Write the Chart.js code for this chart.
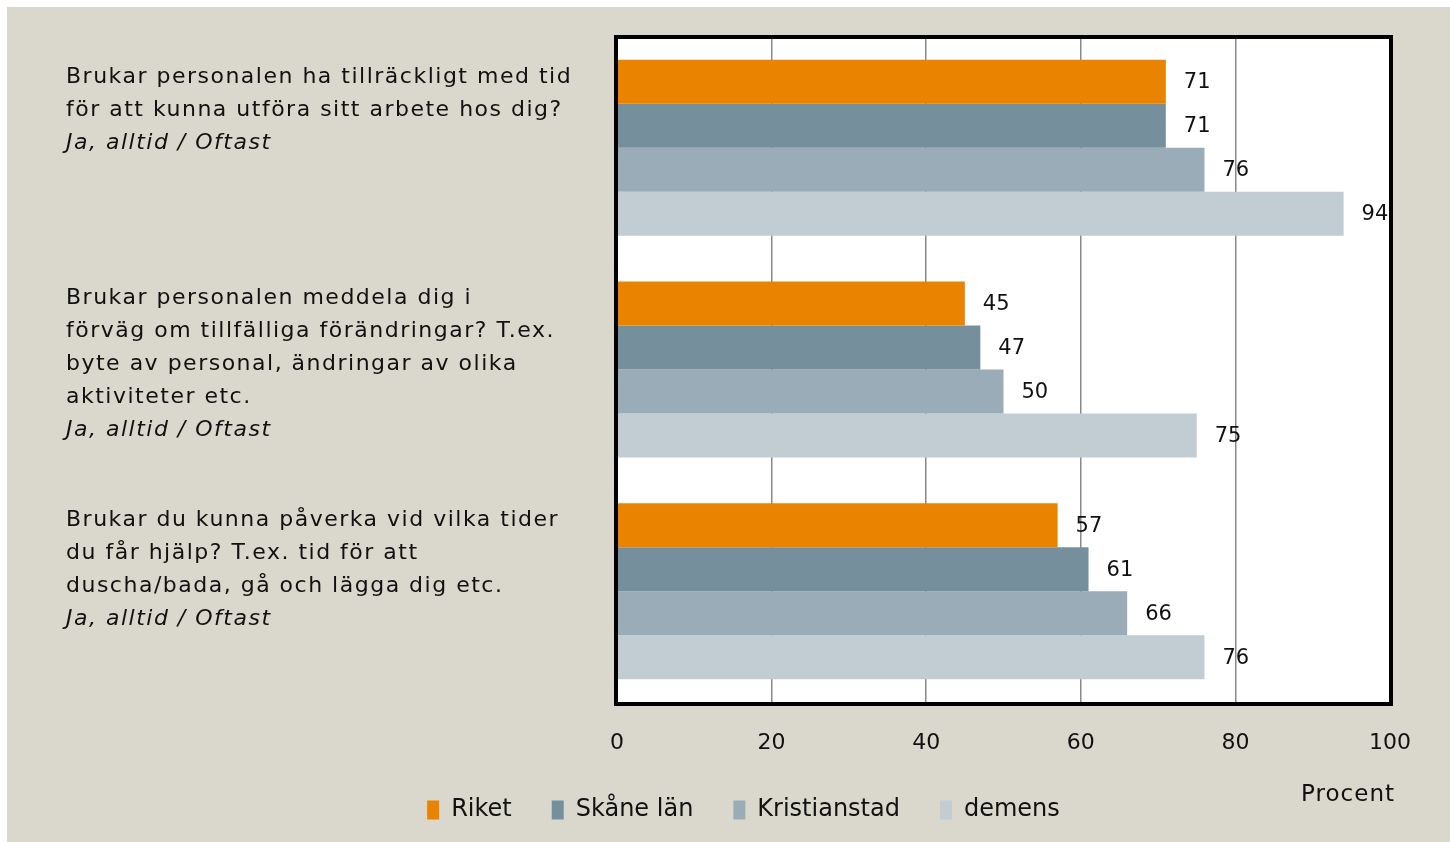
<!DOCTYPE html>
<html>
<head>
<meta charset="utf-8">
<script src="https://cdn.jsdelivr.net/npm/chart.js@4/dist/chart.umd.min.js"></script>
<style>
  html, body { margin: 0; padding: 0; background: #ffffff; }
  #wrap { position: absolute; left: 7px; top: 7px; width: 1443px; height: 835px; background: #dad8cc; }
</style>
</head>
<body>
<div id="wrap"><canvas id="myGraph"></canvas></div>
<script>
const FONT = "'DejaVu Sans', sans-serif";

// frågorna, sista raden kursiv
const questions = [
  ["Brukar personalen ha tillräckligt med tid", "för att kunna utföra sitt arbete hos dig?", "Ja, alltid / Oftast"],
  ["Brukar personalen meddela dig i", "förväg om tillfälliga förändringar? T.ex.", "byte av personal, ändringar av olika", "aktiviteter etc.", "Ja, alltid / Oftast"],
  ["Brukar du kunna påverka vid vilka tider", "du får hjälp? T.ex. tid för att", "duscha/bada, gå och lägga dig etc.", "Ja, alltid / Oftast"]
];
const seriesNames = ["Riket", "Skåne län", "Kristianstad", "demens"];
const riket = [71, 45, 57];
const skane = [71, 47, 61];
const kristianstad = [76, 50, 66];
const demens = [94, 75, 76];
const xTicks = [0, 20, 40, 60, 80, 100];
const axisTitle = "Procent";

const colors = ["#e98300", "#758f9c", "#99acb7", "#c2cdd3"];
const values = [riket, skane, kristianstad, demens];

// egen plugin: vit plotyta, frågetexter, värden, ram och axeltitel
const extras = {
  id: "extras",
  beforeDraw(chart) {
    const ctx = chart.ctx;
    const area = chart.chartArea;
    ctx.save();
    ctx.fillStyle = "#ffffff";
    ctx.fillRect(area.left, area.top, area.right - area.left, area.bottom - area.top);
    ctx.restore();
  },
  afterDatasetsDraw(chart) {
    const ctx = chart.ctx;
    const area = chart.chartArea;
    ctx.save();
    ctx.beginPath();
    ctx.rect(area.left, area.top, area.right - area.left, area.bottom - area.top);
    ctx.clip();
    ctx.fillStyle = "#111";
    ctx.font = "21px " + FONT;
    ctx.textAlign = "left";
    ctx.textBaseline = "middle";
    chart.data.datasets.forEach((ds, i) => {
      chart.getDatasetMeta(i).data.forEach((bar, j) => {
        ctx.fillText(String(ds.data[j]), bar.x + 18, bar.y + 1);
      });
    });
    ctx.restore();
  },
  afterDraw(chart) {
    const ctx = chart.ctx;
    const area = chart.chartArea;
    ctx.save();
    ctx.strokeStyle = "#000";
    ctx.lineWidth = 4;
    ctx.strokeRect(area.left - 1, area.top, area.right - area.left + 2, area.bottom - area.top + 2);

    ctx.fillStyle = "#111";
    ctx.textAlign = "left";
    ctx.textBaseline = "middle";
    ctx.letterSpacing = "1.5px";
    const meta = chart.getDatasetMeta(0);
    questions.forEach((lines, i) => {
      const bar = meta.data[i];
      let y = bar.y - bar.height / 2 + 17;
      lines.forEach((line, k) => {
        const italic = k === lines.length - 1;
        ctx.font = (italic ? "italic " : "") + "22px " + FONT;
        ctx.fillText(line, 59, y);
        y += 33;
      });
    });

    ctx.letterSpacing = "1px";
    ctx.font = "23px " + FONT;
    ctx.textAlign = "right";
    ctx.fillText(axisTitle, area.right + 5, area.bottom + 93);
    ctx.restore();
  }
};

const chart = new Chart(document.getElementById("myGraph"), {
  type: "bar",
  data: {
    labels: questions.map(q => q[0]),
    datasets: seriesNames.map((name, i) => ({
      label: name,
      data: values[i],
      backgroundColor: colors[i],
      borderWidth: 0,
      barPercentage: 1.0,
      categoryPercentage: 0.794
    }))
  },
  options: {
    indexAxis: "y",
    responsive: true,
    maintainAspectRatio: false,
    animation: false,
    layout: { padding: { top: 30, right: 60, bottom: 10, left: 90 } },
    plugins: {
      tooltip: { enabled: false },
      legend: {
        position: "bottom",
        labels: {
          boxWidth: 12,
          boxHeight: 19,
          padding: 40,
          color: "#111",
          font: { family: FONT, size: 24 }
        }
      }
    },
    scales: {
      x: {
        type: "linear",
        min: 0,
        max: 100,
        afterBuildTicks: s => { s.ticks = xTicks.map(v => ({ value: v })); },
        afterFit: s => { s.height = 56; },
        border: { display: false },
        grid: { color: "#888", lineWidth: 1.5, drawTicks: false },
        ticks: { padding: 28, color: "#111", font: { family: FONT, size: 22 } }
      },
      y: {
        afterFit: s => { s.width = 520; },
        border: { display: false },
        grid: { display: false },
        ticks: { display: false }
      }
    }
  },
  plugins: [extras]
});
</script>
</body>
</html>
